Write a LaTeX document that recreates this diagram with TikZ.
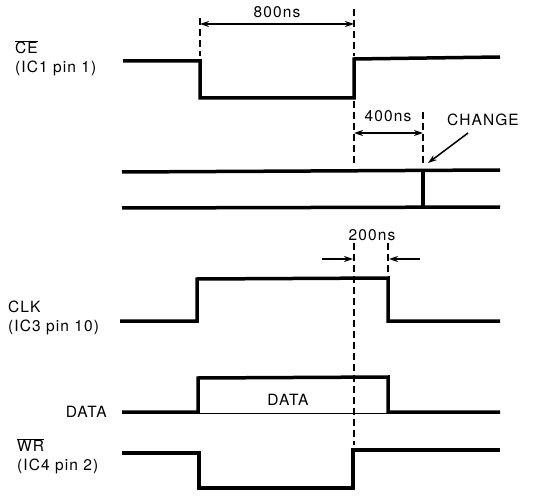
\documentclass[tikz,border=0pt]{standalone}
\usepackage{fontspec}
\setmainfont{TeX Gyre Heros}[LetterSpace=7]
\usetikzlibrary{arrows.meta, calc, positioning}

\begin{document}
\begin{tikzpicture}[x=1pt, y=-1pt,
		sig/.style={line width=3.5pt, line join=miter},
		guide/.style={line width=1.5pt, dash pattern=on 7pt off 4pt},
		dim/.style={line width=1.5pt, {Stealth[length=9pt,width=6pt]}-{Stealth[length=9pt,width=6pt]}},
		pointer/.style={line width=1.5pt, -{Stealth[length=9pt,width=6pt]}},
		lbl/.style={font=\fontsize{15.5}{18.5}\selectfont, inner sep=0pt, align=left}]
	\useasboundingbox (0,0) rectangle (538,497);
	
	% Signal names
	\node [lbl, anchor=west] (ceLbl) at (15,58) {$\overline{\hbox{CE}}$\\(IC1 pin 1)};
	\node [lbl, anchor=west] (clkLbl) at (8,318) {CLK\\(IC3 pin 10)};
	\node [lbl, anchor=east] (dataLbl) at (107,412) {DATA};
	\node [lbl, anchor=west] (wrLbl) at (17,456) {$\overline{\hbox{WR}}$\\(IC4 pin 2)};
	
	% Edges
	\coordinate (ceFall) at (200,61);
	\coordinate (ceRise) at (354,98);
	\coordinate (chg) at (423,171);
	\coordinate (clkFall) at (388,278);
	
	% Waveforms
	\draw [sig] (123,61) -- (ceFall) -- (200,98) -- (ceRise) -- (354,59) -- (500,57);
	\draw [sig] (122,172) -- (500,170);
	\draw [sig] (122,208) -- (500,207);
	\draw [sig] (chg) -- (423,207);
	\draw [sig] (120,321) -- (197,321) -- (197,279) -- (clkFall) -- (388,321) -- (500,321);
	\draw [sig] (122,412) -- (198,412) -- (198,378) -- (388,377) -- (388,412) -- (500,412);
	\draw [line width=1.5pt] (198,413.5) -- (388,413.5);
	\draw [sig] (122,453) -- (199,453) -- (199,488) -- (353,488) -- (353,450) -- (500,450);
	\node [lbl] (dataTxt) at (288,400) {DATA};
	
	% Timing marks
	\draw [guide] (200,18) -- (200,56);
	\draw [guide] (354,9) -- (354,56);
	\draw [dim] (200,24) -- (354,24);
	\node [lbl] (t800) at (277,12) {800ns};
	
	\draw [guide] (354,101) -- (354,163);
	\draw [guide] (423,112) -- (423,163);
	\draw [dim] (354,133) -- (423,133);
	\node [lbl] (t400) at (388,116) {400ns};
	
	\node [lbl] (chgLbl) at (483,120) {CHANGE};
	\draw [pointer] (468,133) -- ($(chg)+(5,-8)$);
	
	\draw [guide] (354,243) -- (354,445);
	\draw [guide] (388,243) -- (388,272);
	\draw [pointer] (322,259) -- (353,259);
	\draw [pointer] (420,259) -- (389,259);
	\node [lbl] (t200) at (372,235) {200ns};
	
\end{tikzpicture}
\end{document}
